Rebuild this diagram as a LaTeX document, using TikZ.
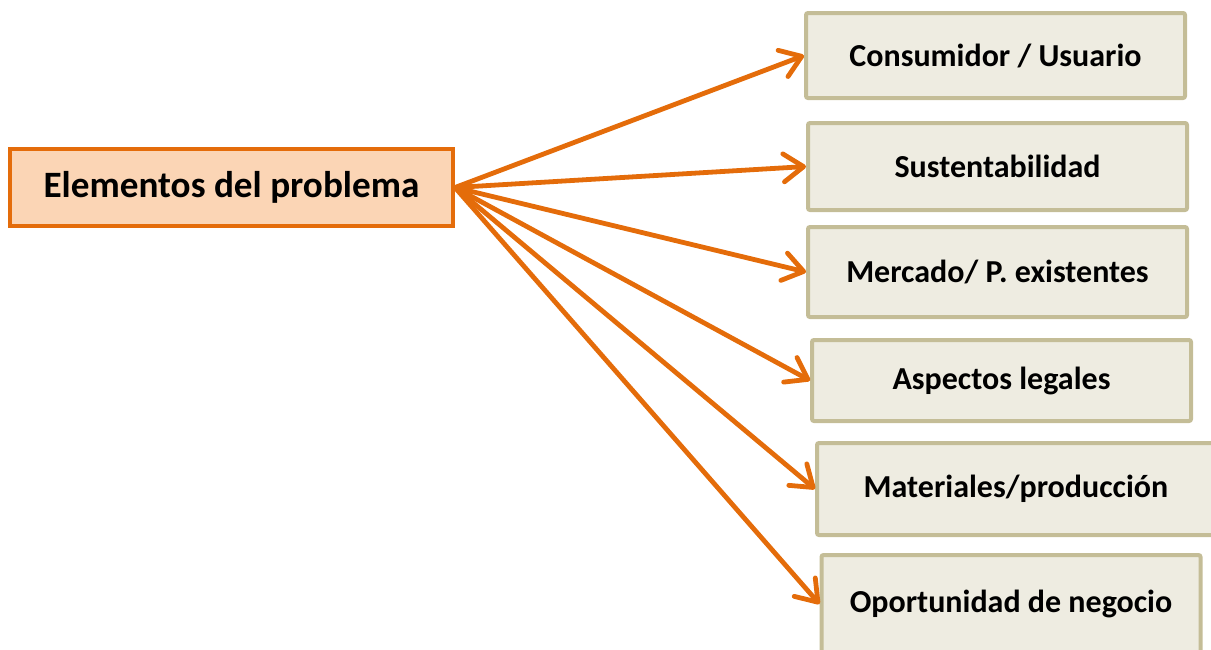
\documentclass[tikz,border=0pt]{standalone}
\usepackage{fontspec}
\setmainfont{Carlito}
\usetikzlibrary{arrows.meta}
\definecolor{naranja}{HTML}{E46C0A}
\definecolor{durazno}{HTML}{FBD5B5}
\definecolor{crema}{HTML}{EEECE1}
\definecolor{arena}{HTML}{C4BD97}
\begin{document}
\begin{tikzpicture}[x=0.5pt, y=-0.5pt,
    every node/.style={rectangle, draw, line width=2pt, inner sep=0pt, font=\bfseries\fontsize{16}{19}\selectfont},
    tema/.style={draw=arena, fill=crema, rounded corners=1pt, minimum width=189.5pt},
    flecha/.style={draw=naranja, line width=2.4pt, -{Straight Barb[length=10pt, width=14pt, line cap=round, line join=round]}}]
      \useasboundingbox (0, 0) rectangle (1211, 649);
      \node[draw=naranja, fill=durazno, minimum width=221.5pt, minimum height=38.5pt, font=\bfseries\fontsize{18.6}{22}\selectfont] (0) at (231.5, 187.5) {Elementos del problema};
      \node[tema, minimum height=42.5pt] (1) at (995.5, 55.5) {Consumidor / Usuario};
      \node[tema, minimum height=43.5pt] (2) at (997.5, 166.5) {Sustentabilidad};
      \node[tema, minimum height=45pt] (3) at (997.5, 272) {Mercado/ P. existentes};
      \node[tema, minimum height=40.5pt] (4) at (1001.5, 380.5) {Aspectos legales};
      \node[tema, minimum height=46pt, minimum width=199pt] (5) at (1016, 489) {Materiales/producción};
      \node[tema, minimum height=49pt] (6) at (1011, 604) {Oportunidad de negocio};
      \draw (0.east) edge[flecha] (1.west);
      \draw (0.east) edge[flecha] (2.west);
      \draw (0.east) edge[flecha] (3.west);
      \draw (0.east) edge[flecha] (4.west);
      \draw (0.east) edge[flecha] (5.west);
      \draw (0.east) edge[flecha] (6.west);
    \end{tikzpicture}
\end{document}
